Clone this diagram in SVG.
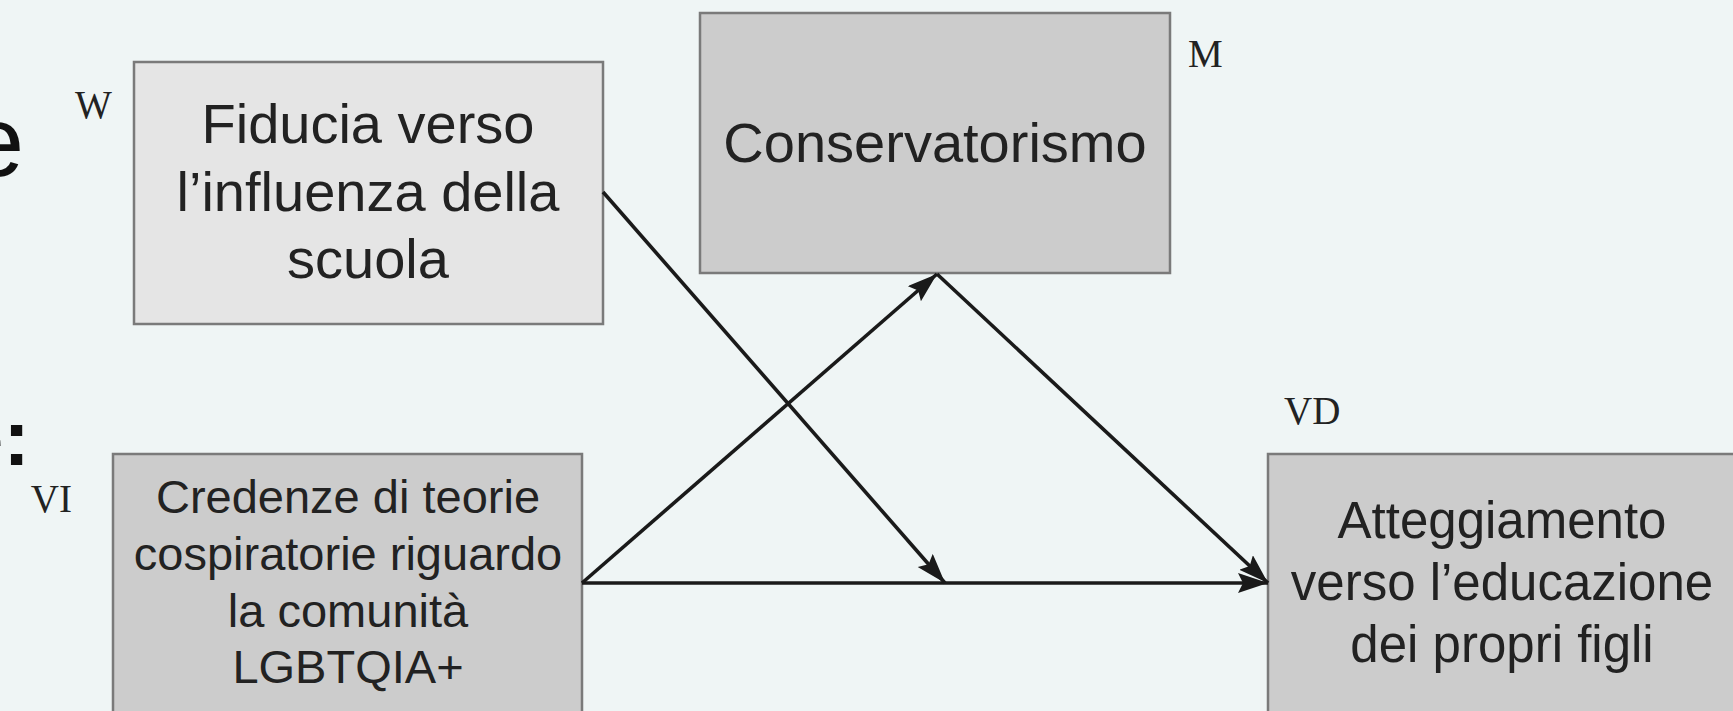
<svg xmlns="http://www.w3.org/2000/svg" width="1733" height="711" viewBox="0 0 1733 711">
<defs>
<style>
.box{stroke:#7a7a7a;stroke-width:2.5}
.light{fill:#e5e5e5}
.dark{fill:#cccccc}
.t{font-family:"Liberation Sans",Arial,sans-serif;fill:#222;text-anchor:middle}
.lab{font-family:"Liberation Serif","Times New Roman",serif;fill:#222;font-size:39px}
.bg{font-family:"Liberation Sans",Arial,sans-serif;fill:#111}
.edge{stroke:#1a1a1a;stroke-width:3.6;fill:none;marker-end:url(#ah)}
</style>
<marker id="ah" markerUnits="userSpaceOnUse" markerWidth="32" markerHeight="22" refX="30" refY="10" orient="auto">
<path d="M0,0 L30,10 L0,20 L5,10 z" fill="#1a1a1a"/>
</marker>
</defs>
<rect x="0" y="0" width="1733" height="711" fill="#eff5f5"/>
<text class="bg" x="24" y="176" font-size="100" text-anchor="end">e</text>
<text class="bg" x="30" y="465" font-size="80" font-weight="bold" text-anchor="end">e:</text>

<g id="node-w">
<rect class="box light" x="134" y="62" width="469" height="262"/>
<text class="t" font-size="56" x="368" y="143">Fiducia verso</text>
<text class="t" font-size="56" x="368" y="211">l’influenza della</text>
<text class="t" font-size="56" x="368" y="278">scuola</text>
<text class="lab" x="75" y="118">W</text>
</g>

<g id="node-m">
<rect class="box dark" x="700" y="13" width="470" height="260"/>
<text class="t" font-size="56" x="935" y="162">Conservatorismo</text>
<text class="lab" x="1188" y="67">M</text>
</g>

<g id="node-vi">
<rect class="box dark" x="113" y="454" width="469" height="320"/>
<text class="t" font-size="47" x="348" y="513">Credenze di teorie</text>
<text class="t" font-size="47" x="348" y="570">cospiratorie riguardo</text>
<text class="t" font-size="47" x="348" y="627">la comunità</text>
<text class="t" font-size="47" x="348" y="683">LGBTQIA+</text>
<text class="lab" x="72" y="512" text-anchor="end">VI</text>
</g>

<g id="node-vd">
<rect class="box dark" x="1268" y="454" width="480" height="320"/>
<text class="t" font-size="51" x="1502" y="538">Atteggiamento</text>
<text class="t" font-size="51" x="1502" y="600">verso l’educazione</text>
<text class="t" font-size="51" x="1502" y="662">dei propri figli</text>
<text class="lab" x="1284" y="424">VD</text>
</g>

<g id="connectors">
<line class="edge" x1="582" y1="583" x2="1268" y2="583"/>
<line class="edge" x1="582" y1="583" x2="937" y2="274"/>
<line class="edge" x1="937" y1="274" x2="1268" y2="583"/>
<line class="edge" x1="603" y1="192" x2="945" y2="583"/>
</g>
</svg>
